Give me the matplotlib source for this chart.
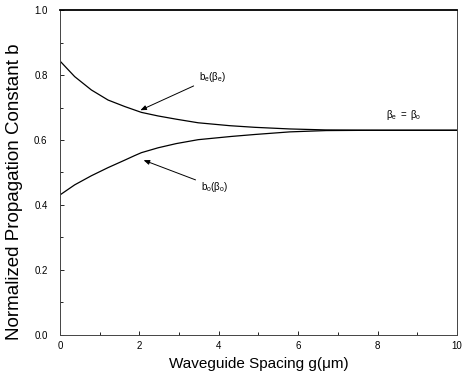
import matplotlib
matplotlib.use("Agg")
import matplotlib.pyplot as plt
from matplotlib.ticker import MultipleLocator

plt.rcParams['font.family'] = ['Liberation Sans', 'DejaVu Sans']
plt.rcParams['mathtext.fontset'] = 'custom'
plt.rcParams['mathtext.rm'] = 'Liberation Sans'
plt.rcParams['mathtext.it'] = 'Liberation Sans:italic'

# Data
g_even = [0.0, 0.37, 0.79, 1.21, 1.63, 2.05, 2.47, 2.93, 3.48, 4.28, 4.91, 5.79, 6.7, 8.0, 10.0]
b_even = [0.843, 0.795, 0.754, 0.723, 0.703, 0.685, 0.674, 0.664, 0.653, 0.644, 0.639, 0.634, 0.631, 0.630, 0.630]
g_odd = [0.0, 0.37, 0.79, 1.21, 1.63, 1.88, 2.05, 2.47, 2.93, 3.48, 4.32, 4.91, 5.79, 6.7, 8.0, 10.0]
b_odd = [0.431, 0.462, 0.490, 0.515, 0.538, 0.552, 0.561, 0.576, 0.589, 0.601, 0.611, 0.617, 0.625, 0.629, 0.630, 0.630]

x_ticks = [0, 2, 4, 6, 8, 10]
y_ticks = [0.0, 0.2, 0.4, 0.6, 0.8, 1.0]
y_tick_labels = ["0.0", "0.2", "0.4", "0.6", "0.8", "1.0"]

fig = plt.figure(figsize=(4.63, 3.85), dpi=100)
ax = fig.add_axes([0.1296, 0.1299, 0.8574, 0.8441])

ax.plot(g_even, b_even, color="black", lw=0.9)
ax.plot(g_odd, b_odd, color="black", lw=0.9)

ax.set_xlim(0, 10)
ax.set_ylim(0, 1.0)
ax.set_xticks(x_ticks)
ax.set_xticklabels([str(v) for v in x_ticks])
ax.set_yticks(y_ticks)
ax.set_yticklabels(y_tick_labels)
ax.xaxis.set_minor_locator(MultipleLocator(1))
ax.yaxis.set_minor_locator(MultipleLocator(0.1))
ax.tick_params(which="both", direction="in", labelsize=7, top=False, right=False)
ax.tick_params(axis="y", which="major", pad=9)
ax.tick_params(axis="x", which="major", pad=4)
ax.tick_params(which="major", length=3, width=0.6)
ax.tick_params(which="minor", length=2, width=0.6)

for s in ["left", "right", "bottom"]:
    ax.spines[s].set_linewidth(0.7)
    ax.spines[s].set_color("#444444")
ax.spines["top"].set_linewidth(1.3)

ax.set_xlabel("Waveguide Spacing g(\u03bcm)", fontsize=11, labelpad=5)
ax.set_ylabel("Normalized Propagation Constant b", fontsize=13.5, labelpad=8)
ax.yaxis.set_label_coords(-0.092, 0.44)

arrowprops = dict(arrowstyle="-|>,head_length=0.5,head_width=0.2", color="black", lw=0.7)
ax.annotate(r"$\mathregular{b_e(\beta_e)}$", xy=(1.96, 0.688), xytext=(3.5, 0.793),
            fontsize=7, ha="left", va="center", arrowprops=arrowprops)
ax.annotate(r"$\mathregular{b_o(\beta_o)}$", xy=(2.04, 0.541), xytext=(3.55, 0.455),
            fontsize=7, ha="left", va="center", arrowprops=arrowprops)
ax.text(8.2, 0.678, r"$\mathregular{\beta_e\ =\ \beta_o}$", fontsize=7, ha="left", va="center")

fig.savefig("out.png", dpi=100)
